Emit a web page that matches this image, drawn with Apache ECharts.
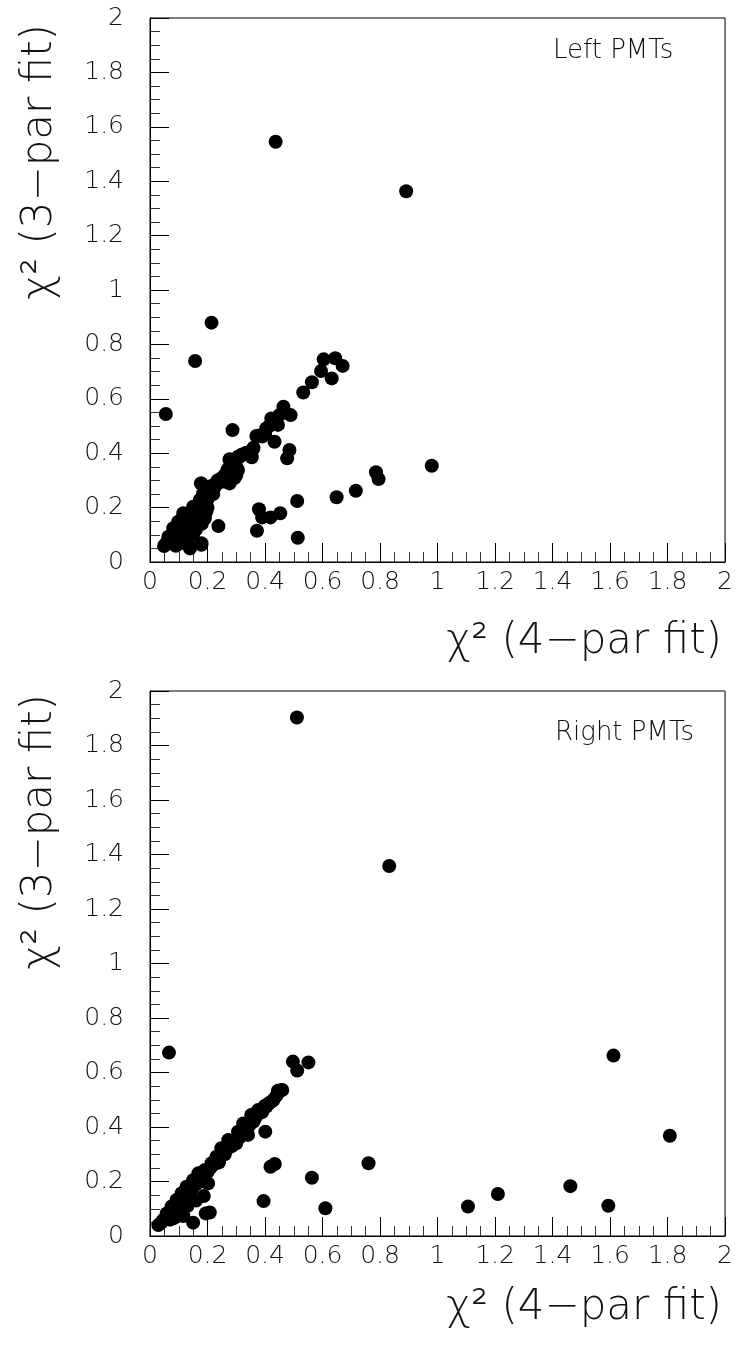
<!DOCTYPE html>
<html>
<head>
<meta charset="utf-8">
<script src="https://cdn.jsdelivr.net/npm/echarts@6/dist/echarts.min.js"></script>
<style>
  html, body { margin: 0; padding: 0; background: #fff; }
  #chart-container { width: 736px; height: 1346px; }
</style>
</head>
<body>
<div id="chart-container"></div>
<script>
// values
var leftX = [0.214, 0.157, 0.055, 0.287, 0.604, 0.644, 0.595, 0.632, 0.670, 0.563, 0.533, 0.464, 0.489, 0.422, 0.445,
  0.404, 0.370, 0.390, 0.433, 0.485, 0.477, 0.358, 0.354, 0.335, 0.306, 0.277, 0.300, 0.300, 0.272, 0.243,
  0.177, 0.220, 0.202, 0.173, 0.191, 0.162, 0.196, 0.191, 0.116, 0.139, 0.098, 0.127, 0.081, 0.159, 0.110,
  0.064, 0.098, 0.049, 0.069, 0.139, 0.179, 0.238, 0.372, 0.379, 0.390, 0.419, 0.453, 0.512, 0.514, 0.649,
  0.716, 0.786, 0.795, 0.980, 0.437, 0.891,
  0.052, 0.081, 0.104, 0.116, 0.139, 0.150, 0.185, 0.179, 0.208, 0.231, 0.248, 0.277, 0.277, 0.306, 0.277,
  0.312, 0.347, 0.185, 0.139, 0.179, 0.156, 0.116, 0.069,
  0.060, 0.075, 0.085, 0.095, 0.105, 0.118, 0.125, 0.135, 0.145, 0.155, 0.165, 0.170, 0.180, 0.190, 0.200,
  0.205, 0.215, 0.225, 0.235, 0.250, 0.260, 0.270, 0.285, 0.290, 0.295, 0.320, 0.340, 0.360, 0.380, 0.400,
  0.415, 0.430, 0.450, 0.100, 0.120, 0.140, 0.160, 0.150, 0.130, 0.110, 0.090, 0.170, 0.200, 0.220, 0.180];
var leftY = [0.880, 0.739, 0.544, 0.485, 0.745, 0.749, 0.702, 0.675, 0.721, 0.661, 0.623, 0.571, 0.540, 0.528, 0.504,
  0.491, 0.463, 0.461, 0.442, 0.412, 0.381, 0.414, 0.385, 0.402, 0.387, 0.378, 0.350, 0.320, 0.292, 0.301,
  0.289, 0.271, 0.253, 0.228, 0.216, 0.203, 0.185, 0.161, 0.179, 0.167, 0.148, 0.142, 0.124, 0.118, 0.105,
  0.093, 0.075, 0.059, 0.069, 0.050, 0.069, 0.132, 0.115, 0.194, 0.164, 0.164, 0.179, 0.224, 0.089, 0.238,
  0.262, 0.330, 0.305, 0.354, 1.545, 1.363,
  0.063, 0.105, 0.124, 0.173, 0.154, 0.203, 0.253, 0.289, 0.271, 0.289, 0.308, 0.332, 0.289, 0.338, 0.375,
  0.387, 0.400, 0.179, 0.056, 0.063, 0.118, 0.081, 0.081,
  0.075, 0.085, 0.100, 0.115, 0.130, 0.140, 0.160, 0.170, 0.180, 0.190, 0.205, 0.215, 0.235, 0.240, 0.230,
  0.260, 0.280, 0.275, 0.300, 0.295, 0.320, 0.340, 0.345, 0.360, 0.310, 0.395, 0.395, 0.420, 0.465, 0.470,
  0.500, 0.520, 0.540, 0.090, 0.110, 0.130, 0.150, 0.100, 0.080, 0.070, 0.060, 0.170, 0.200, 0.250, 0.140];

var rightX = [0.066, 0.497, 0.512, 0.551, 0.445, 0.460, 0.414, 0.399, 0.376, 0.352, 0.324, 0.341, 0.306, 0.272, 0.300,
  0.248, 0.231, 0.214, 0.191, 0.168, 0.150, 0.202, 0.127, 0.110, 0.139, 0.092, 0.075, 0.110, 0.058, 0.081,
  0.046, 0.029, 0.116, 0.401, 0.419, 0.434, 0.187, 0.194, 0.208, 0.150, 0.395, 0.563, 0.610, 0.760, 1.106,
  1.210, 1.462, 1.594, 1.612, 1.808, 0.511, 0.832,
  0.260, 0.285, 0.320, 0.360, 0.380, 0.430, 0.180, 0.100, 0.060, 0.240,
  0.040, 0.055, 0.070, 0.085, 0.095, 0.105, 0.120, 0.135, 0.145, 0.160, 0.175, 0.185, 0.200, 0.210, 0.225,
  0.240, 0.255, 0.265, 0.280, 0.295, 0.310, 0.330, 0.345, 0.365, 0.390, 0.405, 0.425, 0.440, 0.455, 0.100,
  0.130, 0.160, 0.090, 0.070];
var rightY = [0.673, 0.640, 0.607, 0.637, 0.533, 0.536, 0.487, 0.477, 0.462, 0.444, 0.413, 0.371, 0.383, 0.352, 0.340,
  0.322, 0.291, 0.267, 0.242, 0.230, 0.205, 0.193, 0.181, 0.157, 0.132, 0.132, 0.108, 0.102, 0.083, 0.065,
  0.059, 0.040, 0.073, 0.383, 0.254, 0.264, 0.147, 0.083, 0.086, 0.049, 0.128, 0.214, 0.102, 0.267, 0.108,
  0.154, 0.183, 0.111, 0.662, 0.368, 1.903, 1.358,
  0.300, 0.330, 0.370, 0.420, 0.450, 0.500, 0.210, 0.120, 0.070, 0.270,
  0.050, 0.065, 0.080, 0.095, 0.110, 0.125, 0.140, 0.155, 0.170, 0.190, 0.200, 0.220, 0.235, 0.250, 0.265,
  0.285, 0.300, 0.315, 0.330, 0.350, 0.360, 0.385, 0.405, 0.430, 0.455, 0.475, 0.495, 0.515, 0.535, 0.090,
  0.110, 0.130, 0.070, 0.060];

var panelNames = ['Left PMTs', 'Right PMTs'];
var xTitle = 'χ² (4−par fit)';
var yTitle = 'χ² (3−par fit)';

function zip(xs, ys) {
  return xs.map(function (x, i) { return [x, ys[i]]; });
}

var FONT = 'DejaVu Sans';

function makeAxis(gridIndex, labelMargin) {
  return {
    gridIndex: gridIndex,
    type: 'value',
    min: 0,
    max: 2,
    interval: 0.2,
    axisLine: { show: true, lineStyle: { color: '#000', width: 1 } },
    axisTick: { show: true, inside: true, length: 19, lineStyle: { color: '#000', width: 1 } },
    minorTick: { show: true, splitNumber: 4, length: 10, lineStyle: { color: '#333', width: 1 } },
    splitLine: { show: false },
    axisLabel: {
      fontSize: 25,
      fontFamily: FONT,
      fontWeight: 200,
      color: '#111',
      margin: labelMargin
    }
  };
}

var dom = document.getElementById('chart-container');
var myChart = echarts.init(dom, null, { renderer: 'canvas' });

var titleStyle = { fontSize: 42, fontFamily: FONT, fontWeight: 200, fill: '#111' };
var noteStyle = { fontSize: 26, fontFamily: FONT, fontWeight: 200, fill: '#111' };

var option = {
  animation: false,
  backgroundColor: '#fff',
  grid: [
    { left: 150, right: 9, top: 18, height: 544, show: true, borderColor: '#000', borderWidth: 1 },
    { left: 150, right: 9, top: 691, height: 545, show: true, borderColor: '#000', borderWidth: 1 }
  ],
  xAxis: [makeAxis(0, 8), makeAxis(1, 8)],
  yAxis: [makeAxis(0, 26), makeAxis(1, 26)],
  series: [
    {
      type: 'scatter',
      xAxisIndex: 0,
      yAxisIndex: 0,
      symbol: 'circle',
      symbolSize: 14,
      itemStyle: { color: '#000', opacity: 1 },
      data: zip(leftX, leftY)
    },
    {
      type: 'scatter',
      xAxisIndex: 1,
      yAxisIndex: 1,
      symbol: 'circle',
      symbolSize: 14,
      itemStyle: { color: '#000', opacity: 1 },
      data: zip(rightX, rightY)
    }
  ],
  graphic: [
    { type: 'text', left: 553, top: 38, style: Object.assign({ text: panelNames[0] }, noteStyle) },
    { type: 'text', left: 555, top: 720, style: Object.assign({ text: panelNames[1] }, noteStyle) },
    { type: 'text', x: 722, y: 642, style: Object.assign({ text: xTitle, align: 'right', verticalAlign: 'middle' }, titleStyle) },
    { type: 'text', x: 722, y: 1308, style: Object.assign({ text: xTitle, align: 'right', verticalAlign: 'middle' }, titleStyle) },
    { type: 'text', x: 40, y: 24, rotation: Math.PI / 2, style: Object.assign({ text: yTitle, align: 'right', verticalAlign: 'middle' }, titleStyle) },
    { type: 'text', x: 40, y: 694, rotation: Math.PI / 2, style: Object.assign({ text: yTitle, align: 'right', verticalAlign: 'middle' }, titleStyle) }
  ]
};

myChart.setOption(option);
window.addEventListener('resize', myChart.resize);
</script>
</body>
</html>
